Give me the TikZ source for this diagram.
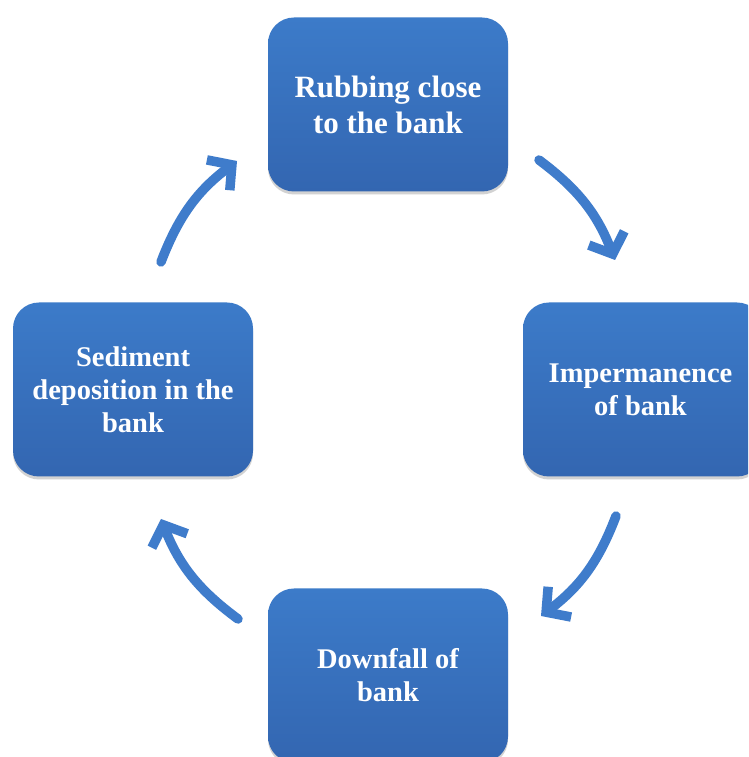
\documentclass[tikz,border=0pt]{standalone}
\usepackage{fontspec}
\setmainfont{Liberation Serif}
\usetikzlibrary{arrows.meta,shadows}
\definecolor{boxtop}{HTML}{3C7BC9}
\definecolor{boxbot}{HTML}{3366B1}
\definecolor{arrowblue}{HTML}{3F7CCB}
\tikzset{
  stepbox/.style={rounded corners=26pt, minimum width=240pt, minimum height=174pt,
    top color=boxtop, bottom color=boxbot, draw=none, text=white,
    font=\bfseries, align=center, inner sep=0pt,
    drop shadow={shadow xshift=0pt, shadow yshift=-3pt, opacity=0.25, fill=black!70}},
  bigtext/.style={font=\fontsize{31}{36}\selectfont\bfseries},
  smalltext/.style={font=\fontsize{28.5}{33}\selectfont\bfseries},
  cyclearrow/.style={draw=arrowblue, line width=9.5pt, line cap=round,
    -{Straight Barb[length=17pt, width=38pt, line width=9.5pt]}}
}
\begin{document}
\begin{tikzpicture}[x=1pt,y=1pt]
\clip (0,0) rectangle (748,757);
\fill[white] (0,0) rectangle (748,757);
\node[stepbox, bigtext] (top) at (388,652.5) {Rubbing close\\to the bank};
\node[stepbox, smalltext] (right) at (643,367.5) {\hspace*{-5pt}Impermanence\\\hspace*{-5pt}of bank};
\node[stepbox, smalltext] (bottom) at (388,81.5) {Downfall of\\bank};
\node[stepbox, smalltext] (left) at (133,367.5) {Sediment\\deposition in the\\bank};
\coordinate (a1s) at (539,597);
\coordinate (a1e) at (615,497);
\coordinate (a2s) at (616,241);
\coordinate (a2e) at (541,141);
\coordinate (a3s) at (238,138);
\coordinate (a3e) at (161,238);
\coordinate (a4s) at (161,495);
\coordinate (a4e) at (237,596);
\draw[cyclearrow] (a1s) to[bend left=16] (a1e);
\draw[cyclearrow] (a2s) to[bend left=16] (a2e);
\draw[cyclearrow] (a3s) to[bend left=16] (a3e);
\draw[cyclearrow] (a4s) to[bend left=16] (a4e);
\end{tikzpicture}
\end{document}
